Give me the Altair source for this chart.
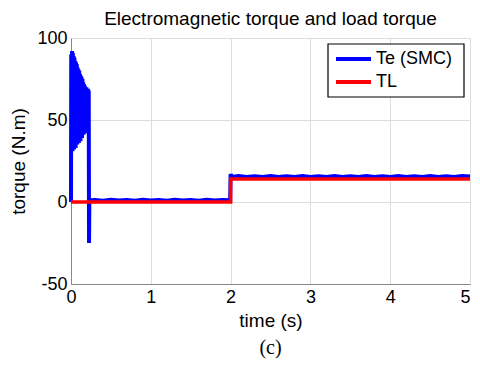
import altair as alt
import pandas as pd

# Electromagnetic torque Te (SMC): time (s) and torque (N.m)
te_time = [0.000, 0.003, 0.008, 0.013, 0.018, 0.023, 0.028, 0.033, 0.038, 0.043,
           0.048, 0.053, 0.058, 0.063, 0.068, 0.073, 0.078, 0.083, 0.088, 0.093,
           0.098, 0.103, 0.108, 0.113, 0.118, 0.123, 0.128, 0.133, 0.138, 0.143,
           0.148, 0.153, 0.158, 0.163, 0.168, 0.173, 0.178, 0.183, 0.188, 0.193,
           0.198, 0.203, 0.208, 0.213, 0.218, 0.222, 0.226, 0.230,
           0.30, 0.40, 0.50, 0.60, 0.70, 0.80, 0.90, 1.00, 1.10, 1.20,
           1.30, 1.40, 1.50, 1.60, 1.70, 1.80, 1.90, 1.995,
           2.000, 2.010, 2.10, 2.20, 2.30, 2.40, 2.50, 2.60, 2.70, 2.80,
           2.90, 3.00, 3.10, 3.20, 3.30, 3.40, 3.50, 3.60, 3.70, 3.80,
           3.90, 4.00, 4.10, 4.20, 4.30, 4.40, 4.50, 4.60, 4.70, 4.80,
           4.90, 5.00]
te_value = [0, 90, 33, 92, 31, 91, 34, 89, 32, 88,
            36, 86, 33, 85, 37, 84, 35, 82, 38, 81,
            36, 80, 39, 78, 37, 77, 40, 76, 39, 75,
            42, 73, 41, 72, 43, 71, 42, 70, 44, 70,
            43, 69, 45, 69, 44, 68, -25, 1,
            1.2, 0.8, 1.3, 0.9, 1.2, 0.7, 1.3, 0.9, 1.2, 0.8,
            1.3, 0.9, 1.2, 0.8, 1.3, 0.9, 1.2, 1.0,
            17, 15.3, 15.8, 15.2, 15.7, 15.3, 15.8, 15.2, 15.7, 15.3,
            15.8, 15.2, 15.7, 15.3, 15.8, 15.2, 15.7, 15.3, 15.8, 15.2,
            15.7, 15.3, 15.8, 15.2, 15.7, 15.3, 15.8, 15.2, 15.7, 15.3,
            15.8, 15.5]

# Load torque TL
tl_time = [0, 2.0, 2.0, 5.0]
tl_value = [0, 0, 14, 14]

series_names = ["Te (SMC)", "TL"]
series_colors = ["#0000ff", "#ff0000"]

x_ticks = [0, 1, 2, 3, 4, 5]
y_ticks = [-50, 0, 50, 100]

te_df = pd.DataFrame({"time": te_time, "torque": te_value})
tl_df = pd.DataFrame({"time": tl_time, "torque": tl_value})

FONT = "Liberation Sans"
W, H = 399, 246

x_enc = alt.X("time:Q", scale=alt.Scale(domain=[0, 5], nice=False),
              axis=alt.Axis(values=x_ticks, title="time (s)", grid=True, ticks=False,
                            labelFontSize=18, titleFontSize=19, labelPadding=4,
                            titlePadding=5, labelFlush=False, titleFontWeight="normal",
                            labelExpr="datum.value + ''",
                            labelAlign=alt.ExprRef(expr="datum.value == 5 ? 'right' : 'center'")))
y_enc = alt.Y("torque:Q", scale=alt.Scale(domain=[-50, 100], nice=False),
              axis=alt.Axis(values=y_ticks, title="torque (N.m)", grid=True, ticks=False,
                            labelFontSize=18, titleFontSize=19, labelPadding=4,
                            titlePadding=8, labelFlush=False, titleFontWeight="normal",
                            labelExpr="datum.value + ''"))

te_line = alt.Chart(te_df).mark_line(strokeWidth=4, color=series_colors[0]).encode(
    x=x_enc, y=y_enc, order="time:Q")
tl_line = alt.Chart(tl_df).mark_line(strokeWidth=3.5, color=series_colors[1]).encode(
    x=x_enc, y=y_enc)

# legend drawn by hand: box, line samples and labels (positions in plot pixels)
box_left, box_right, box_top, box_bottom = W - 142, W - 6, 6, 59
row_y = [21, 44]
one = pd.DataFrame({"k": [0]})
legend_layers = [
    alt.Chart(one).mark_rect(fill="white", stroke="black", strokeWidth=1.2).encode(
        x=alt.value(box_left), x2=alt.value(box_right),
        y=alt.value(box_top), y2=alt.value(box_bottom))
]
for name, col, ry in zip(series_names, series_colors, row_y):
    legend_layers.append(
        alt.Chart(one).mark_rule(strokeWidth=4, color=col).encode(
            x=alt.value(box_left + 8), x2=alt.value(box_left + 43), y=alt.value(ry)))
    legend_layers.append(
        alt.Chart(one).mark_text(align="left", baseline="middle", font=FONT,
                                 fontSize=18, color="black", text=name).encode(
            x=alt.value(box_left + 48), y=alt.value(ry)))

caption = alt.Chart(one).mark_text(
    font="Liberation Serif", fontSize=20, color="black", baseline="middle",
    text="(c)").encode(x=alt.value(W / 2), y=alt.value(310))

chart = alt.layer(te_line, tl_line, *legend_layers, caption).properties(
    width=W, height=H,
    title=alt.TitleParams("Electromagnetic torque and load torque", fontSize=19,
                          font=FONT, fontWeight="normal", color="black", offset=6,
                          dy=6),
    autosize=alt.AutoSizeParams(type="none"),
    padding={"left": 63, "top": 30, "right": 2, "bottom": 75},
).configure_axis(
    labelFont=FONT, titleFont=FONT, labelColor="black", titleColor="black",
    titleFontWeight="normal", domainColor="black", domainWidth=1.5,
    gridColor="#9a9a9a", gridWidth=1,
).configure_view(stroke="black", strokeWidth=1.5).configure(background="white")

chart.save("out.html", embed_options={"renderer": "svg", "actions": False})
